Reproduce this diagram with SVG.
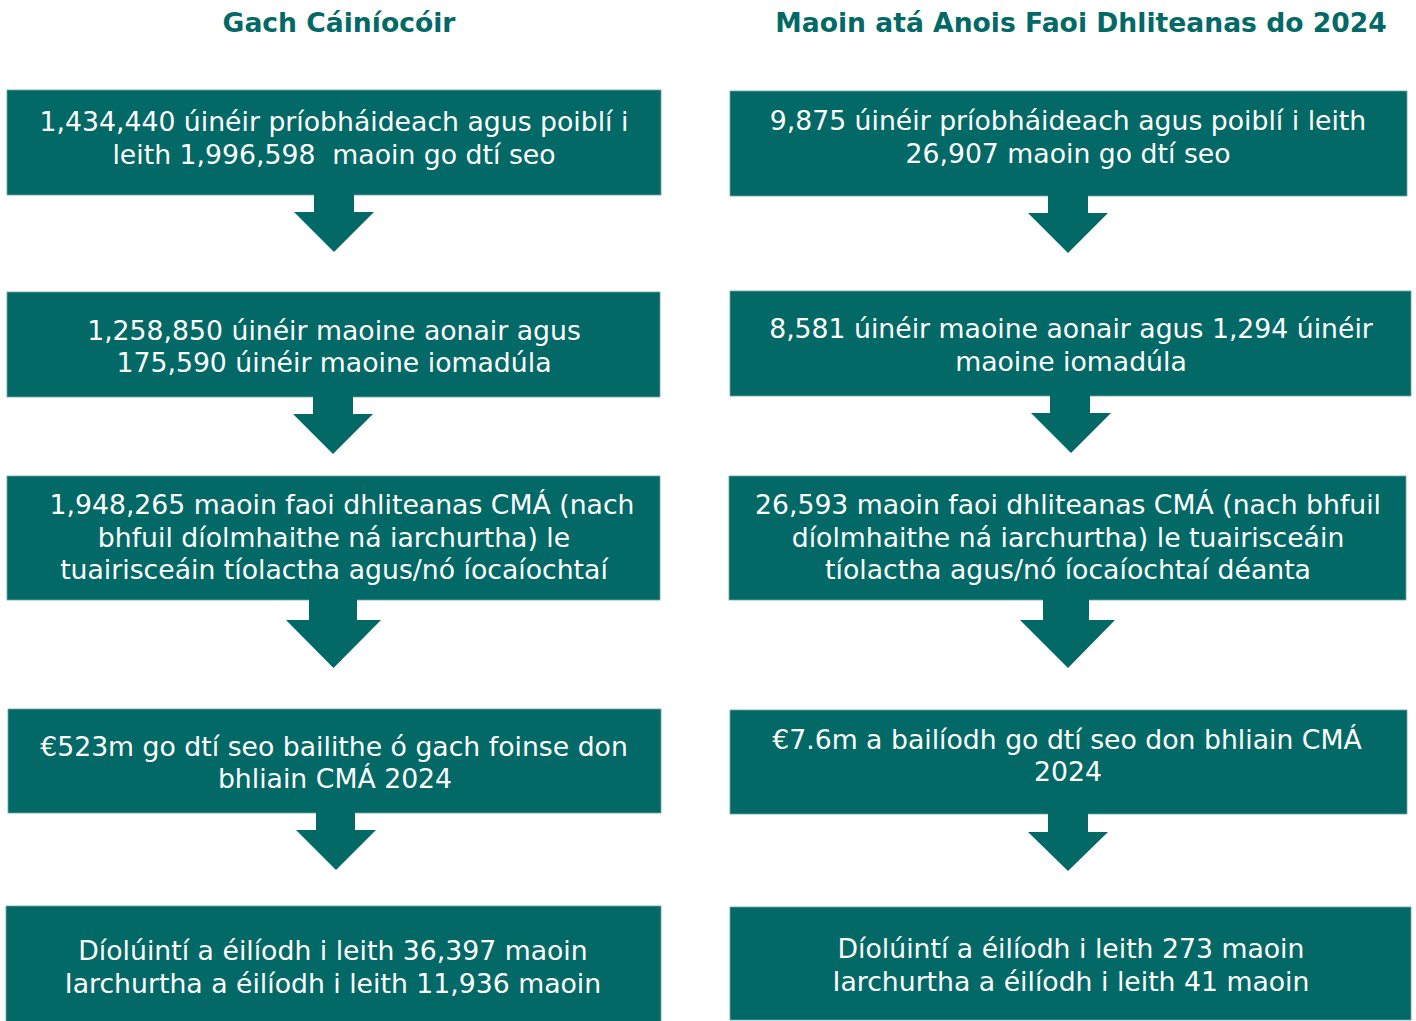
<svg xmlns="http://www.w3.org/2000/svg" width="1416" height="1021" viewBox="0 0 1416 1021">
<style>
.title{font-family:"DejaVu Sans","Liberation Sans",sans-serif;font-weight:bold;font-size:26.6px;fill:#036966;text-anchor:middle}
.box{fill:#026966;stroke:#6fa6a3;stroke-width:0.8}
.t{font-family:"DejaVu Sans","Liberation Sans",sans-serif;font-size:26.7px;fill:#ffffff;text-anchor:middle}
.arr{fill:#026966}
</style>
<rect width="1416" height="1021" fill="#ffffff"/>
<text class="title" x="339" y="32">Gach Cáiníocóir</text>
<text class="title" x="1081" y="32">Maoin atá Anois Faoi Dhliteanas do 2024</text>

<g id="left1"><rect class="box" x="7" y="90" width="654" height="105"/>
<text class="t" x="334" y="131">1,434,440 úinéir príobháideach agus poiblí i</text>
<text class="t" x="334" y="164">leith 1,996,598&#160; maoin go dtí seo</text></g>

<g id="left2"><rect class="box" x="7" y="292" width="653" height="105"/>
<text class="t" x="334" y="340">1,258,850 úinéir maoine aonair agus</text>
<text class="t" x="334" y="372">175,590 úinéir maoine iomadúla</text></g>

<g id="left3"><rect class="box" x="7" y="476" width="653" height="124"/>
<text class="t" x="342" y="514">1,948,265 maoin faoi dhliteanas CMÁ (nach</text>
<text class="t" x="334" y="547">bhfuil díolmhaithe ná iarchurtha) le</text>
<text class="t" x="334" y="579">tuairisceáin tíolactha agus/nó íocaíochtaí</text></g>

<g id="left4"><rect class="box" x="8" y="709" width="653" height="104"/>
<text class="t" x="334" y="756">€523m go dtí seo bailithe ó gach foinse don</text>
<text class="t" x="335" y="788">bhliain CMÁ 2024</text></g>

<g id="left5"><rect class="box" x="6" y="906" width="655" height="118"/>
<text class="t" x="333" y="960">Díolúintí a éilíodh i leith 36,397 maoin</text>
<text class="t" x="333" y="993">Iarchurtha a éilíodh i leith 11,936 maoin</text></g>

<g id="right1"><rect class="box" x="730" y="91" width="677" height="105"/>
<text class="t" x="1068" y="130">9,875 úinéir príobháideach agus poiblí i leith</text>
<text class="t" x="1068" y="163">26,907 maoin go dtí seo</text></g>

<g id="right2"><rect class="box" x="730" y="291" width="681" height="105"/>
<text class="t" x="1071" y="338">8,581 úinéir maoine aonair agus 1,294 úinéir</text>
<text class="t" x="1071" y="371">maoine iomadúla</text></g>

<g id="right3"><rect class="box" x="729" y="476" width="677" height="124"/>
<text class="t" x="1068" y="514">26,593 maoin faoi dhliteanas CMÁ (nach bhfuil</text>
<text class="t" x="1068" y="547">díolmhaithe ná iarchurtha) le tuairisceáin</text>
<text class="t" x="1068" y="579">tíolactha agus/nó íocaíochtaí déanta</text></g>

<g id="right4"><rect class="box" x="730" y="710" width="677" height="104"/>
<text class="t" x="1067" y="749">€7.6m a bailíodh go dtí seo don bhliain CMÁ</text>
<text class="t" x="1068" y="781">2024</text></g>

<g id="right5"><rect class="box" x="730" y="907" width="681" height="113"/>
<text class="t" x="1071" y="958">Díolúintí a éilíodh i leith 273 maoin</text>
<text class="t" x="1071" y="991">Iarchurtha a éilíodh i leith 41 maoin</text></g>

<g id="connectors">
<polygon class="arr" points="314,194 354,194 354,212 374,212 334,252 294,212 314,212"/>
<polygon class="arr" points="313,396 353,396 353,414 373,414 333,454 293,414 313,414"/>
<polygon class="arr" points="309,599 357,599 357,620 381,620 333.5,668 286,620 309,620"/>
<polygon class="arr" points="316,812 355,812 355,830 376,830 336,870 296,830 316,830"/>
<polygon class="arr" points="1048,195 1088,195 1088,213 1108,213 1068,253 1028,213 1048,213"/>
<polygon class="arr" points="1050,395 1090,395 1090,413 1111,413 1071,453 1031,413 1050,413"/>
<polygon class="arr" points="1043,599 1089,599 1089,620 1115,620 1068,668 1020,620 1043,620"/>
<polygon class="arr" points="1048,813 1088,813 1088,832 1108,832 1068,871 1028,832 1048,832"/>
</g>
</svg>
